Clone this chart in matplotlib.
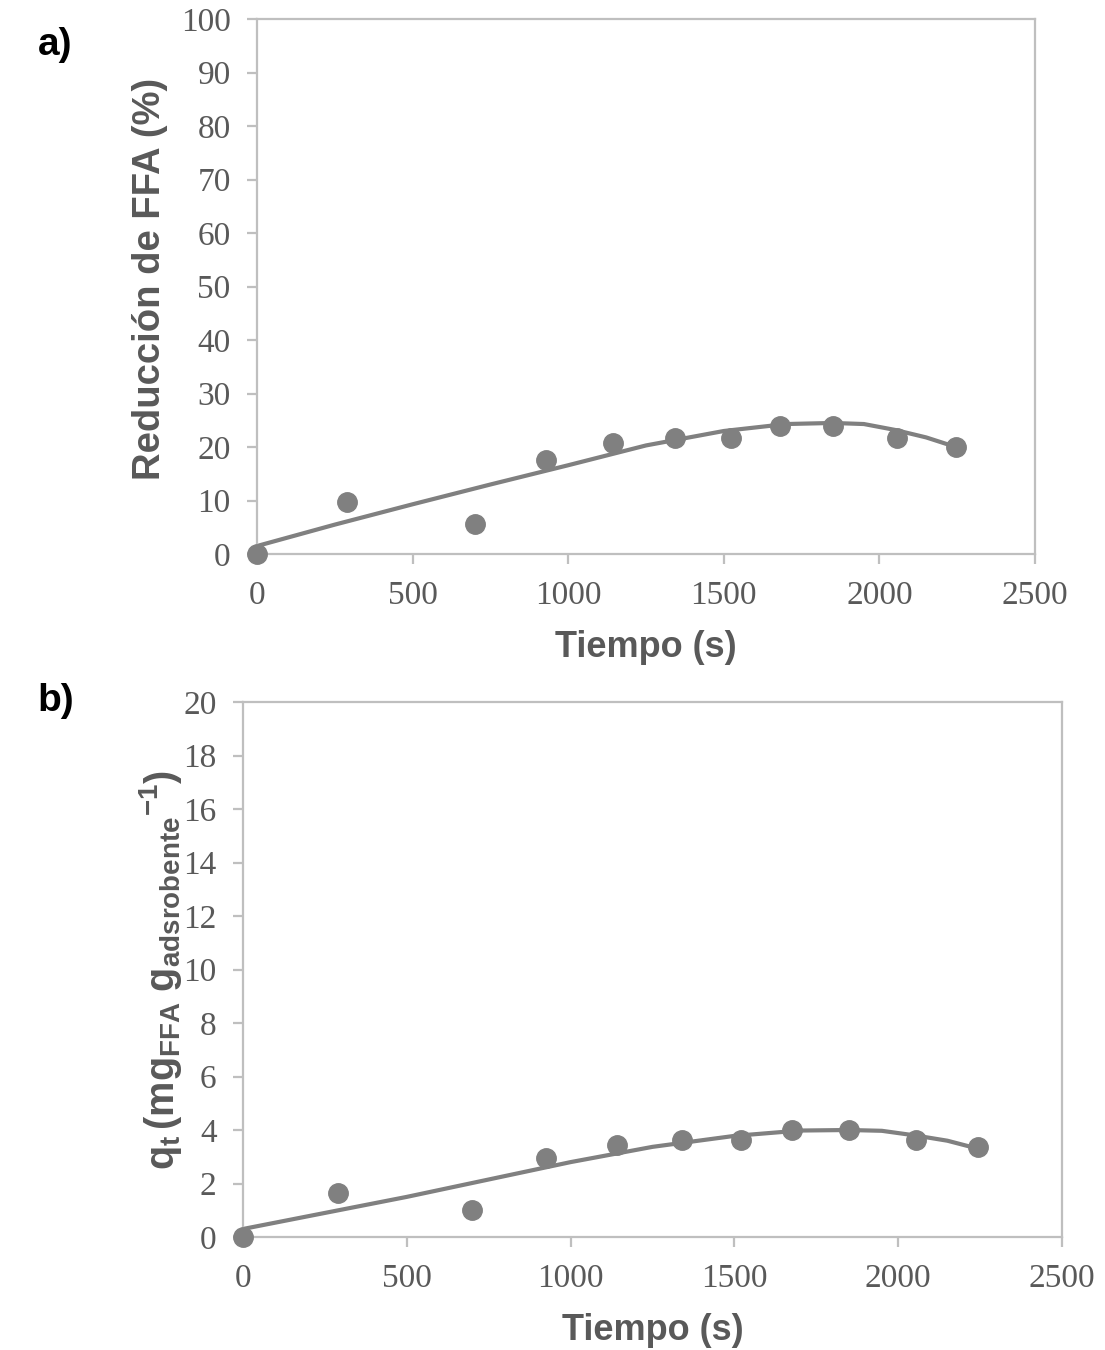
import matplotlib
matplotlib.use('Agg')
import matplotlib.pyplot as plt

# measured points (panel a)
tiempo_a = [0, 289, 700, 929, 1144, 1343, 1523, 1681, 1851, 2057, 2246]
reduccion = [0, 9.7, 5.6, 17.6, 20.7, 21.7, 21.7, 23.9, 23.9, 21.7, 20.0]

# trend line
curva_a_x = [0, 250, 500, 750, 1000, 1250, 1500, 1700, 1850, 1950, 2050, 2150, 2246]
curva_a_y = [1.5, 5.5, 9.3, 13.0, 16.6, 20.3, 23.0, 24.3, 24.5, 24.3, 23.2, 21.8, 20.0]

# measured points (panel b)
tiempo_b = [0, 290, 699, 925, 1142, 1340, 1520, 1676, 1850, 2054, 2244]
qt = [0, 1.64, 1.0, 2.95, 3.44, 3.63, 3.63, 4.0, 4.0, 3.63, 3.36]

# trend line
curva_b_x = [0, 250, 500, 750, 1000, 1250, 1500, 1700, 1850, 1950, 2050, 2150, 2244]
curva_b_y = [0.3, 0.9, 1.5, 2.15, 2.8, 3.37, 3.78, 3.98, 4.0, 3.97, 3.8, 3.6, 3.3]

x_ticks = [0, 500, 1000, 1500, 2000, 2500]
ya_ticks = list(range(0, 101, 10))
yb_ticks = list(range(0, 21, 2))

plt.rcParams['mathtext.fontset'] = 'custom'
plt.rcParams['mathtext.rm'] = 'Liberation Sans:bold'
plt.rcParams['mathtext.bf'] = 'Liberation Sans:bold'
plt.rcParams['mathtext.it'] = 'Liberation Sans:bold'

GRIS = '#808080'
EJE = '#bfbfbf'
TEXTO = '#595959'


def estilo(ax, yticks, ylim):
    ax.set_xlim(0, 2500)
    ax.set_ylim(*ylim)
    ax.set_xticks(x_ticks)
    ax.set_yticks(yticks)
    for s in ax.spines.values():
        s.set_color(EJE)
        s.set_linewidth(1.6)
    ax.tick_params(direction='out', length=7, width=1.6, color=EJE,
                   labelcolor=TEXTO, labelsize=24, pad=12)
    for lab in ax.get_xticklabels() + ax.get_yticklabels():
        lab.set_fontfamily('Liberation Serif')


fig = plt.figure(figsize=(11.05, 13.5), dpi=100)

ax1 = fig.add_axes([0.2326, 0.5896, 0.7041, 0.3963])
ax1.plot(curva_a_x, curva_a_y, color=GRIS, lw=3, zorder=2)
ax1.plot(tiempo_a, reduccion, 'o', color=GRIS, ms=14, zorder=3, clip_on=False)
estilo(ax1, ya_ticks, (0, 100))
ax1.set_xlabel('Tiempo (s)', fontfamily='Liberation Sans', fontweight='bold',
               fontsize=26, color=TEXTO, va='center')
ax1.set_ylabel('Reducción de FFA (%)', fontfamily='Liberation Sans', fontweight='bold',
               fontsize=27.5, color=TEXTO, va='center')
ax1.xaxis.set_label_coords(0.5, -0.174)
ax1.yaxis.set_label_coords(-0.1375, 0.515)

ax2 = fig.add_axes([0.2199, 0.0837, 0.7412, 0.3963])
ax2.plot(curva_b_x, curva_b_y, color=GRIS, lw=3, zorder=2)
ax2.plot(tiempo_b, qt, 'o', color=GRIS, ms=14, zorder=3, clip_on=False)
estilo(ax2, yb_ticks, (0, 20))
ax2.set_xlabel('Tiempo (s)', fontfamily='Liberation Sans', fontweight='bold',
               fontsize=26, color=TEXTO, va='center')
ax2.set_ylabel(r'$\mathbf{q_t\,(mg_{FFA}\;g_{adsrobente}{}^{-1})}$',
               fontsize=28.5, color=TEXTO, va='center')
ax2.xaxis.set_label_coords(0.5, -0.174)
ax2.yaxis.set_label_coords(-0.101, 0.5)

fig.text(0.05, 0.967, 'a)', fontfamily='Liberation Sans', fontweight='bold',
         fontsize=28, color='black', ha='center', va='center')
fig.text(0.05, 0.481, 'b)', fontfamily='Liberation Sans', fontweight='bold',
         fontsize=28, color='black', ha='center', va='center')

fig.savefig('out.png', dpi=100)
